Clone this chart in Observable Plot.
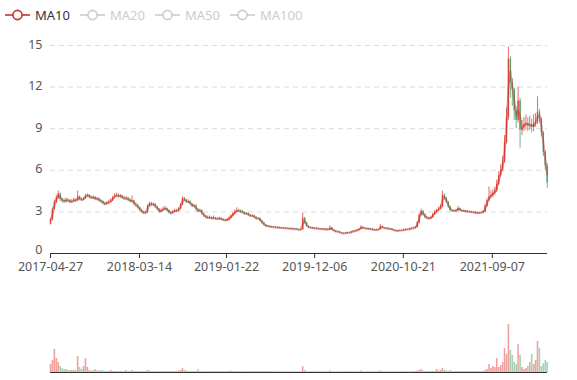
<!DOCTYPE html>
<html><head><meta charset="utf-8">
<script src="https://cdn.jsdelivr.net/npm/d3@7"></script>
<script src="https://cdn.jsdelivr.net/npm/@observablehq/plot@0.6"></script>
<style>
html,body{margin:0;padding:0;background:#fff;}
#wrap{position:relative;width:577px;height:380px;overflow:hidden;font-family:"Noto Sans",sans-serif;}
#legend{position:absolute;left:0;top:0;width:577px;height:30px;}
.item{position:absolute;top:7px;height:16px;display:flex;align-items:center;font-size:13px;line-height:16px;}
.item svg{display:block;margin-right:5px;}
#main{position:absolute;left:0;top:30px;}
#vol{position:absolute;left:0;top:283px;}
</style></head>
<body>
<div id="wrap"><div id="legend"></div><div id="main"></div><div id="vol"></div></div>
<script>
// ---- data (weekly samples) ----
const startDate = "2017-04-27";
const endDate = "2022-03-25";
const firstOpen = 2.1;
const close = [
2.4,3.2,3.7,4.0,4.3,3.9,3.8,3.75,3.85,3.8,
3.7,3.75,3.85,3.8,4.1,3.9,3.85,3.95,4.15,4.2,
4.05,4.0,4.05,3.9,3.95,3.8,3.75,3.6,3.55,3.65,
3.7,3.8,4.0,4.15,4.2,4.1,4.15,4.0,3.95,3.98,
3.85,3.75,3.8,3.55,3.45,3.3,3.1,3.0,2.9,2.95,
3.4,3.6,3.5,3.55,3.35,3.2,3.0,3.1,3.2,3.25,
3.1,2.95,2.9,3.0,3.1,3.05,3.2,3.5,3.95,3.85,
3.7,3.75,3.55,3.4,3.45,3.15,3.05,3.1,2.85,2.7,
2.6,2.55,2.6,2.5,2.55,2.5,2.48,2.52,2.45,2.4,
2.38,2.42,2.55,2.7,2.85,3.0,3.1,3.05,3.0,2.95,
2.85,2.88,2.75,2.7,2.72,2.6,2.5,2.52,2.35,2.2,
2.05,1.95,1.97,1.9,1.92,1.87,1.89,1.84,1.86,1.82,
1.83,1.8,1.81,1.77,1.79,1.75,1.76,1.72,1.7,1.72,
2.55,2.2,1.95,1.85,1.87,1.8,1.82,1.77,1.79,1.75,
1.76,1.72,1.74,1.7,1.85,1.7,1.62,1.55,1.57,1.48,
1.45,1.44,1.47,1.5,1.49,1.55,1.6,1.63,1.68,1.75,
1.9,1.82,1.78,1.8,1.75,1.76,1.7,1.68,1.71,1.72,
1.95,1.85,1.8,1.82,1.76,1.77,1.7,1.65,1.62,1.64,
1.66,1.65,1.7,1.73,1.72,1.78,1.8,1.83,1.88,2.2,
2.75,3.05,2.8,2.6,2.55,2.5,2.6,2.8,3.0,3.1,
3.2,3.35,4.2,4.0,3.7,3.35,3.1,3.08,3.05,3.1,
3.25,3.1,3.05,3.08,3.0,3.02,3.0,2.95,2.97,2.9,
2.92,2.93,2.95,3.0,3.4,3.8,4.1,4.2,4.35,4.5,
5.0,5.6,6.0,6.6,8.0,9.8,14.0,12.3,11.8,10.3,
9.6,11.0,8.9,9.1,9.3,9.4,9.2,9.3,9.1,9.35,
9.5,10.2,9.7,8.7,7.3,6.3,5.1];
const high = [
2.5,3.3,3.85,4.2,4.5,4.35,4.0,3.95,4.0,3.95,
3.9,3.9,4.0,3.95,4.5,4.15,4.0,4.05,4.25,4.3,
4.25,4.15,4.15,4.1,4.05,4.0,3.9,3.8,3.7,3.75,
3.85,3.95,4.1,4.3,4.35,4.3,4.25,4.2,4.1,4.1,
4.05,3.95,4.15,3.85,3.65,3.55,3.35,3.2,3.05,3.05,
3.5,3.7,3.7,3.65,3.6,3.4,3.25,3.2,3.35,3.4,
3.3,3.15,3.05,3.1,3.2,3.2,3.3,3.6,4.1,4.05,
3.9,3.85,3.8,3.6,3.55,3.5,3.25,3.2,3.15,2.9,
2.75,2.7,2.7,2.65,2.7,2.62,2.58,2.62,2.58,2.52,
2.48,2.52,2.65,2.8,2.95,3.15,3.3,3.2,3.15,3.1,
3.0,2.95,2.92,2.82,2.8,2.76,2.65,2.6,2.56,2.4,
2.24,2.08,2.02,2.0,1.97,1.95,1.94,1.92,1.91,1.89,
1.88,1.86,1.86,1.84,1.84,1.82,1.81,1.79,1.76,1.78,
2.9,2.6,2.25,1.98,1.92,1.9,1.87,1.85,1.84,1.82,
1.81,1.79,1.79,1.77,2.0,1.88,1.73,1.65,1.62,1.6,
1.52,1.5,1.52,1.55,1.55,1.6,1.65,1.68,1.73,1.8,
2.0,1.93,1.85,1.85,1.83,1.81,1.79,1.74,1.76,1.77,
2.1,1.98,1.88,1.87,1.85,1.82,1.8,1.73,1.68,1.69,
1.71,1.7,1.75,1.78,1.77,1.83,1.86,1.9,1.95,2.3,
2.85,3.2,3.1,2.85,2.68,2.62,2.7,2.9,3.1,3.2,
3.35,3.5,4.5,4.3,4.05,3.75,3.4,3.18,3.15,3.18,
3.4,3.3,3.15,3.14,3.12,3.08,3.08,3.05,3.03,3.0,
2.98,3.0,3.02,3.1,3.55,3.95,4.8,4.5,4.6,4.8,
5.3,5.9,6.4,7.0,8.5,10.5,14.9,14.2,12.6,11.9,
10.6,12.0,11.2,9.6,9.8,10.0,9.8,9.9,9.7,10.0,
10.1,11.3,10.4,9.8,8.8,7.4,6.5];
const low = [
2.05,2.35,3.15,3.6,3.9,3.75,3.65,3.6,3.65,3.7,
3.6,3.62,3.7,3.7,3.75,3.8,3.75,3.8,3.9,4.05,
3.95,3.9,3.9,3.8,3.8,3.7,3.65,3.5,3.45,3.5,
3.55,3.65,3.75,3.95,4.05,4.0,4.0,3.9,3.85,3.85,
3.75,3.65,3.65,3.45,3.35,3.2,3.0,2.9,2.8,2.85,
2.9,3.35,3.4,3.4,3.25,3.1,2.9,2.95,3.05,3.1,
3.0,2.85,2.75,2.85,2.95,2.95,3.0,3.15,3.45,3.75,
3.6,3.6,3.45,3.3,3.3,3.05,2.95,2.95,2.75,2.6,
2.5,2.45,2.48,2.42,2.45,2.42,2.4,2.42,2.38,2.32,
2.3,2.3,2.36,2.5,2.65,2.8,2.95,2.95,2.9,2.85,
2.75,2.78,2.65,2.62,2.62,2.52,2.42,2.44,2.28,2.12,
1.98,1.9,1.91,1.86,1.86,1.83,1.83,1.8,1.8,1.78,
1.78,1.76,1.76,1.73,1.73,1.71,1.71,1.68,1.66,1.66,
1.7,2.1,1.9,1.8,1.81,1.76,1.76,1.73,1.73,1.71,
1.71,1.68,1.68,1.66,1.68,1.65,1.58,1.51,1.51,1.44,
1.41,1.4,1.4,1.43,1.45,1.46,1.52,1.56,1.6,1.65,
1.72,1.78,1.74,1.74,1.71,1.71,1.66,1.64,1.64,1.67,
1.7,1.8,1.76,1.76,1.72,1.72,1.66,1.61,1.58,1.58,
1.6,1.61,1.62,1.66,1.68,1.69,1.74,1.77,1.8,1.85,
2.15,2.7,2.7,2.5,2.45,2.42,2.45,2.55,2.75,2.9,
3.05,3.15,3.3,3.85,3.6,3.25,3.0,3.0,2.98,3.0,
3.05,3.02,2.98,2.99,2.94,2.94,2.93,2.9,2.9,2.84,
2.84,2.86,2.88,2.9,2.95,3.35,3.75,3.95,4.05,4.2,
4.4,4.9,5.5,5.9,6.5,7.9,9.6,11.2,10.6,9.6,
9.0,9.4,7.6,8.5,8.8,8.9,8.8,8.9,8.7,8.8,
9.1,9.3,9.4,8.4,7.0,6.0,4.7];
const volume = [
8,12,23,14,10,6,4,3,3,2,
2,2,2,2,16,5,3,6,14,5,
2,1.5,1.5,3,1.5,1.5,2,1.5,1,1,
1,2,1,1,1,1,1,1,1,2,
1,1,2,1,1,1,1,1,1,1,
2,1.5,1,1,1,1,1,1,1,1,
1,1,1,1,1,1,1.5,2,4,2,
1.5,1,1,1,1,1,3,1,1,1,
1,1,1,1,1,1,1,1,1,1,
1,1,1,1.5,1,1,1,1,1,1,
1,1,1,1,1,1,1,1,1,1,
1,1,1,1,0.8,0.8,0.8,0.8,0.8,0.8,
0.8,0.8,0.8,0.8,0.8,0.8,0.8,0.8,0.8,1,
6,2,1,0.8,0.8,0.8,0.8,0.8,0.8,0.8,
0.8,0.8,0.8,0.8,1.5,0.8,0.8,0.8,0.8,0.8,
0.8,0.8,0.8,0.8,0.8,0.8,0.8,0.8,0.8,0.8,
1.5,0.8,0.8,0.8,0.8,0.8,0.8,0.8,0.8,0.8,
1.5,0.8,0.8,0.8,0.8,0.8,0.8,0.8,0.8,0.8,
0.8,0.8,0.8,0.8,0.8,0.8,0.8,0.8,1,1.5,
2,3,1.5,1,1,1,1,1,1,3,
1.5,2,4,2,1.5,1,2,1,1,1,
1,1,1,1,1,1,1,1,1,1,
1,1,1,1,2,3,8,4,6,5,
14,5,7,10,24,18,48,22,17,10,
8,28,17,5,3,4,6,10,18,8,
12,31,24,6,9,12,10];
const tickLabels = ["2017-04-27","2018-03-14","2019-01-22","2019-12-06","2020-10-21","2021-09-07"];
const yTicks = [0,3,6,9,12,15];
const legendNames = ["MA10","MA20","MA50","MA100"];
const activeSeries = ["MA10"];
const maWeeks = 2; // 10 trading days = 2 weekly samples

// ---- styling ----
const upColor = "#e0463c", downColor = "#4ea36e", maColor = "#c23531";
const font = '"Noto Sans", sans-serif';

const parse = d3.utcParse("%Y-%m-%d");
const t0 = parse(startDate);
const rows = close.map((c, i) => {
  const open = i ? close[i - 1] : firstOpen;
  return {date: d3.utcDay.offset(t0, 7 * i), open, close: c, high: high[i], low: low[i], volume: volume[i], dir: c >= open ? "up" : "down"};
});

// legend
const legend = document.getElementById("legend");
const lefts = [5, 80, 155, 230];
legendNames.forEach((name, k) => {
  const on = activeSeries.includes(name);
  const col = on ? maColor : "#ccc";
  const it = document.createElement("div");
  it.className = "item";
  it.style.left = lefts[k] + "px";
  it.innerHTML = `<svg width="25" height="14"><line x1="0" x2="25" y1="7" y2="7" stroke="${col}" stroke-width="1.6"/><circle cx="12.5" cy="7" r="4.6" fill="#fff" stroke="${col}" stroke-width="1.6"/></svg><span style="color:${on ? "#333" : "#ccc"}">${name}</span>`;
  legend.appendChild(it);
});

const xDomain = [t0, parse(endDate)];
const colorScale = {domain: ["up", "down"], range: [upColor, downColor]};

const main = Plot.plot({
  width: 577, height: 253,
  marginLeft: 50, marginRight: 30, marginTop: 15, marginBottom: 30,
  style: {fontFamily: font, fontSize: "12.5px", color: "#555", background: "#fff", overflow: "visible"},
  x: {type: "utc", domain: xDomain, label: null},
  y: {domain: [0, 15], label: null},
  color: colorScale,
  marks: [
    Plot.ruleY(yTicks.filter(v => v > 0), {stroke: "#dcdcdc", strokeDasharray: "5,4"}),
    Plot.ruleX(rows, {x: "date", y1: "low", y2: "high", stroke: "dir", strokeWidth: 0.8}),
    Plot.ruleX(rows, {x: "date", y1: "open", y2: "close", stroke: "dir", strokeWidth: 1.4}),
    Plot.lineY(rows, Plot.windowY({k: maWeeks, anchor: "end"}, {x: "date", y: "close", stroke: maColor, strokeWidth: 2, strokeOpacity: 0.5})),
    Plot.ruleY([0], {stroke: "#333"}),
    Plot.axisY({ticks: yTicks.filter(v => v > 0), tickSize: 0, tickPadding: 8, dy: -1, label: null}),
    Plot.axisY({ticks: yTicks.filter(v => v === 0), tickSize: 0, tickPadding: 8, dy: -3.5, label: null}),
    Plot.axisX({ticks: tickLabels.map(parse), tickFormat: d3.utcFormat("%Y-%m-%d"), tickSize: 5, tickPadding: 4, stroke: "#333", label: null})
  ]
});
document.getElementById("main").appendChild(main);

const vol = Plot.plot({
  width: 577, height: 97,
  marginLeft: 50, marginRight: 30, marginTop: 41, marginBottom: 8,
  style: {fontFamily: font, background: "#fff", overflow: "visible"},
  x: {type: "utc", domain: xDomain, axis: null},
  y: {domain: [0, d3.max(volume)], axis: null},
  color: colorScale,
  marks: [
    Plot.ruleX(rows, {x: "date", y: "volume", stroke: "dir", strokeWidth: 1.6, strokeOpacity: 0.5}),
    Plot.ruleY([0], {stroke: "#333"})
  ]
});
document.getElementById("vol").appendChild(vol);
</script>
</body></html>
